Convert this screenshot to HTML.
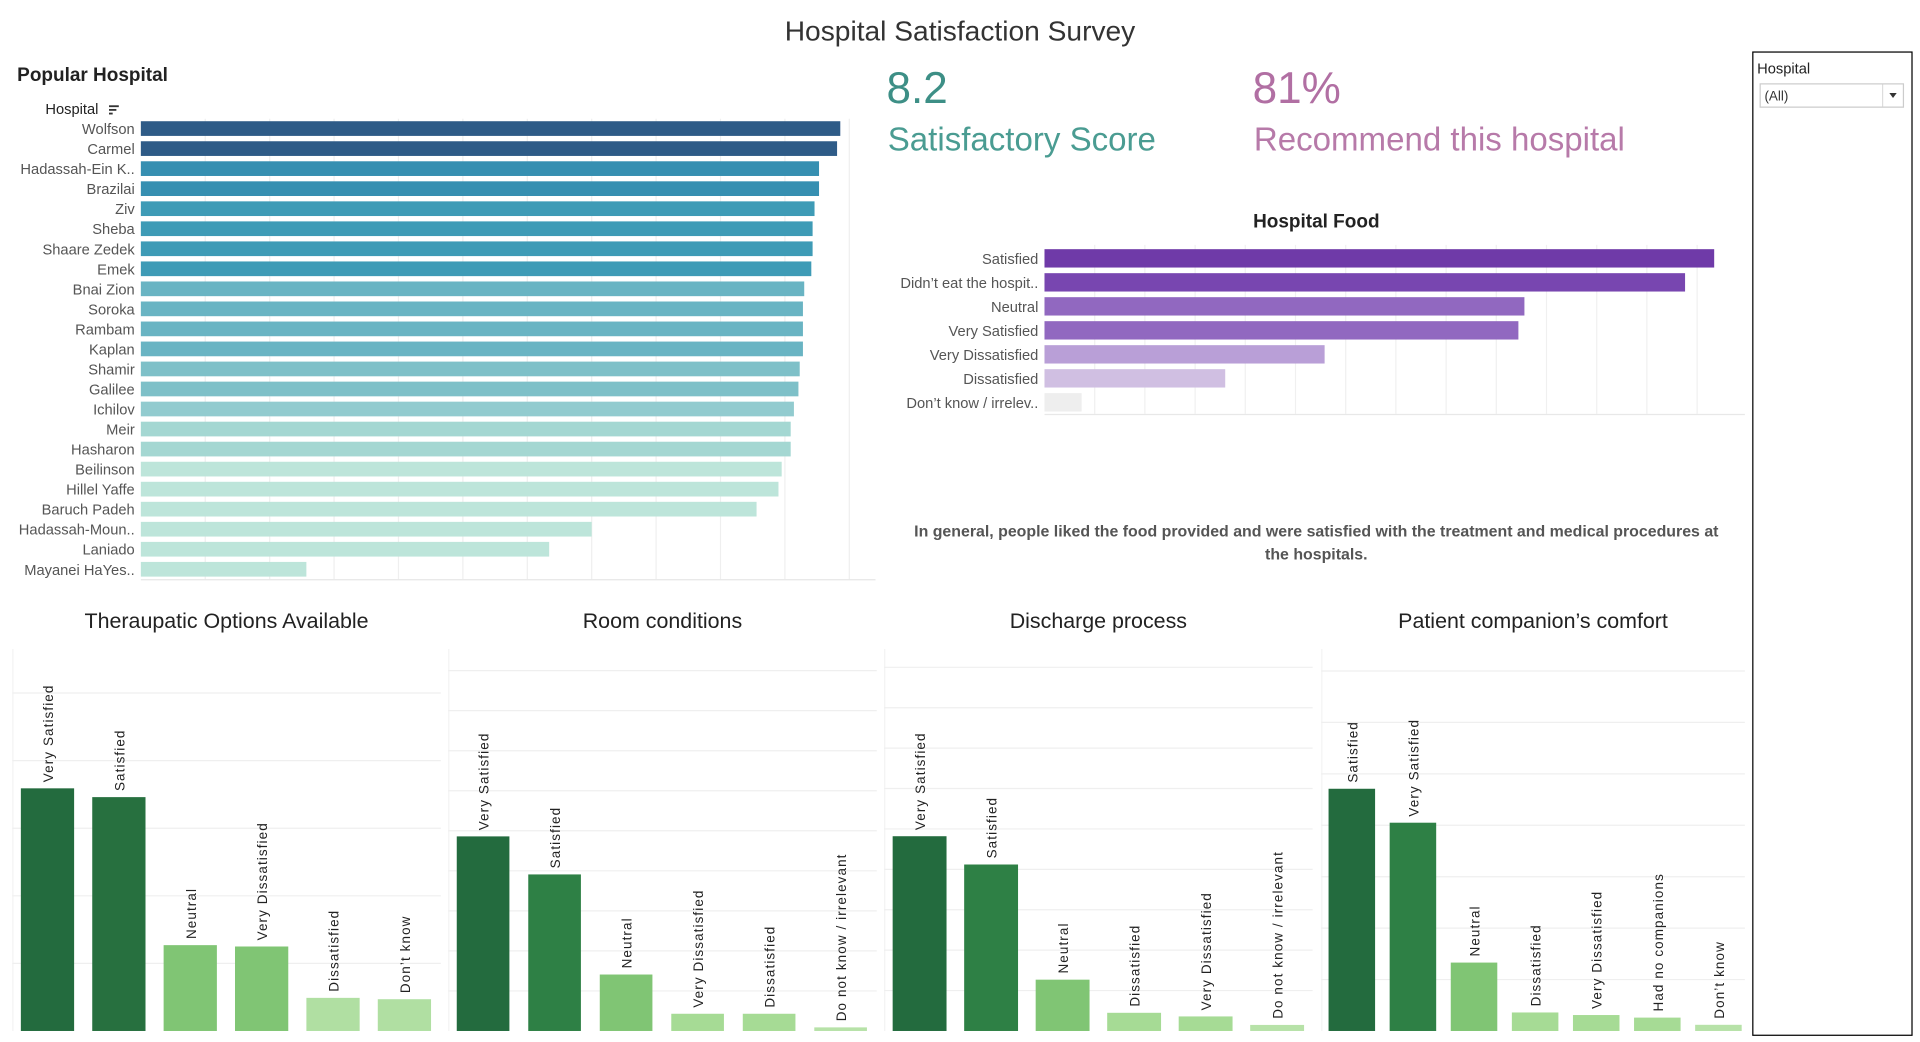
<!DOCTYPE html>
<html><head><meta charset="utf-8"><title>Hospital Satisfaction Survey</title>
<style>
html,body{margin:0;padding:0;background:#fff;width:1920px;height:1042px;overflow:hidden}
svg{display:block}
text{font-family:"Liberation Sans",sans-serif}
.rot{font-family:"Liberation Sans",sans-serif;font-size:11px;letter-spacing:0.9px;fill:#222}
</style></head>
<body>
<svg id="dash" width="1920" height="1042" viewBox="0 0 1568 851" xmlns="http://www.w3.org/2000/svg">
<text x="784" y="33" text-anchor="middle" font-size="23" fill="#333">Hospital Satisfaction Survey</text>
<text x="14" y="66" font-size="15.5" font-weight="bold" fill="#222">Popular Hospital</text>
<text x="37" y="93" font-size="12" fill="#222">Hospital</text>
<g><rect x="89" y="86" width="8" height="1.5" fill="#333"/><rect x="89" y="89" width="6" height="1.5" fill="#333"/><rect x="89" y="92" width="3" height="1.5" fill="#333"/></g>
<g id="popular"></g>
<text x="724" y="84" font-size="36" fill="#3d8f86">8.2</text>
<text x="725" y="123" font-size="27" fill="#4a9c92">Satisfactory Score</text>
<text x="1023" y="84" font-size="36" fill="#b16fa3">81%</text>
<text x="1024" y="123" font-size="27" fill="#b77aa9">Recommend this hospital</text>
<text x="1075" y="186" text-anchor="middle" font-size="15.5" font-weight="bold" fill="#222">Hospital Food</text>
<g id="food"></g>
<text x="1075" y="438" text-anchor="middle" font-size="13" font-weight="bold" fill="#555">In general, people liked the food provided  and were satisfied with the treatment and medical procedures at</text>
<text x="1075" y="457" text-anchor="middle" font-size="13" font-weight="bold" fill="#555">the hospitals.</text>
<g>
<rect x="1431.5" y="42.5" width="130" height="803" fill="#fff" stroke="#000" stroke-width="1"/>
<text x="1435" y="60" font-size="12" fill="#222">Hospital</text>
<g>
<rect x="1437.5" y="68.5" width="117" height="19" fill="#fff" stroke="#ccc"/>
<line x1="1537.5" y1="69" x2="1537.5" y2="87" stroke="#ddd"/>
<text x="1441" y="82" font-size="11" fill="#333">(All)</text>
<path d="M1543 76 L1549 76 L1546 80 Z" fill="#333"/>
</g></g>
<g id="bottom"></g>
</svg>
<script>
const NS="http://www.w3.org/2000/svg";
function el(tag,attrs,parent){const e=document.createElementNS(NS,tag);for(const k in attrs)e.setAttribute(k,attrs[k]);parent.appendChild(e);return e;}

// ---- Popular Hospital data ----
const hospitals=["Wolfson","Carmel","Hadassah-Ein K..","Brazilai","Ziv","Sheba","Shaare Zedek","Emek","Bnai Zion","Soroka","Rambam","Kaplan","Shamir","Galilee","Ichilov","Meir","Hasharon","Beilinson","Hillel Yaffe","Baruch Padeh","Hadassah-Moun..","Laniado","Mayanei HaYes.."];
const hospitalCounts=[1086,1081,1053,1053,1046,1043,1043,1041,1030,1028,1028,1028,1023,1021,1014,1009,1009,995,990,956,700,634,257];
const hospitalTicks=[0,100,200,300,400,500,600,700,800,900,1000,1100];

// ---- Hospital Food data ----
const foodCats=["Satisfied","Didn’t eat the hospit..","Neutral","Very Satisfied","Very Dissatisfied","Dissatisfied","Don’t know / irrelev.."];
const foodCounts=[667,638,478,472,279,180,37];
const foodTicks=[0,50,100,150,200,250,300,350,400,450,500,550,600,650,700];

// ---- bottom charts data ----
const therCats=["Very Satisfied","Satisfied","Neutral","Very Dissatisfied","Dissatisfied","Don’t know"];
const therVals=[359,346,127,125,49,47];
const roomCats=["Very Satisfied","Satisfied","Neutral","Very Dissatisfied","Dissatisfied","Do not know / irrelevant"];
const roomVals=[486,391,141,43,43,9];
const dischCats=["Very Satisfied","Satisfied","Neutral","Dissatisfied","Very Dissatisfied","Do not know / irrelevant"];
const dischVals=[482,412,127,45,36,15];
const compCats=["Satisfied","Very Satisfied","Neutral","Dissatisfied","Very Dissatisfied","Had no companions","Don’t know"];
const compVals=[471,405,133,36,31,26,12];
const bottomTicks=[0,100,200,300,400,500,600,700,800,900];

// Popular Hospital chart
(function(){
 const g=document.getElementById('popular');
 const x0=115,xEnd=715,pxPer=52.6/100,y0=105,step=16.36,bh=12;
 const xs=v=>x0+v*pxPer;
 hospitalTicks.forEach(t=>{if(t===0)return;const x=xs(t);if(x>xEnd)return;
  const l=el('line',{x1:x,x2:x,y1:97,y2:473,stroke:'#efefef'},g);
  
  });
 const ax=el('line',{x1:x0,x2:xEnd,y1:473.5,y2:473.5,stroke:'#e6e6e6'},g);
 
 
 const maxv=Math.max(...hospitalCounts);
 function color(v){const r=v/maxv;
  if(r>0.99)return'#2e5b87';if(r>0.965)return'#368fb1';if(r>0.958)return'#3e9bb6';if(r>0.955)return'#46a3b9';
  if(r>0.944)return'#69b4c3';if(r>0.938)return'#7ec0c8';if(r>0.93)return'#92cbcf';if(r>0.925)return'#a4d7d2';return'#bde5da';}
 hospitals.forEach((h,i)=>{const cy=y0+i*step;
  const r=el('rect',{x:x0,y:cy-bh/2,width:xs(hospitalCounts[i])-x0,height:bh,fill:color(hospitalCounts[i])},g);
  
  
  const t=el('text',{x:110,y:cy+4.5,'text-anchor':'end','font-size':12,fill:'#555'},g);t.textContent=h;
  
  });
})();

// Hospital Food chart
(function(){
 const g=document.getElementById('food');
 const x0=853,xEnd=1425,pxPer=41/50,y0=211,step=19.6,bh=15;
 const xs=v=>x0+v*pxPer;
 foodTicks.forEach(t=>{if(t===0)return;const x=xs(t);if(x>xEnd)return;
  const l=el('line',{x1:x,x2:x,y1:200,y2:338,stroke:'#f0f0f0'},g);
  
  });
 const ax=el('line',{x1:x0,x2:xEnd,y1:338.5,y2:338.5,stroke:'#e8e8e8'},g);
 
 
 const cols=['#6f3aa8','#7846b0','#9168c0','#9168c0','#b99fd7','#d0bfe2','#eeeeee'];
 foodCats.forEach((c,i)=>{const cy=y0+i*step;
  const r=el('rect',{x:x0,y:cy-bh/2,width:xs(foodCounts[i])-x0,height:bh,fill:cols[i]},g);
  
  
  const t=el('text',{x:848,y:cy+4.5,'text-anchor':'end','font-size':12,fill:'#555'},g);t.textContent=c;
  
  });
})();

// Bottom charts
(function(){
 const g=document.getElementById('bottom');
 const base=842;
 const panels=[
  {title:'Theraupatic Options Available',cats:therCats,vals:therVals,x0:10,x1:360,bx:17,bw:43.5,pitch:58.3,px:55.2/100,name:'therapeutic',
   cols:['#236b3e','#27703f','#80c574','#80c574','#b0dfa2','#b0dfa2']},
  {title:'Room conditions',cats:roomCats,vals:roomVals,x0:366,x1:716,bx:373,bw:43,pitch:58.4,px:32.7/100,name:'room',
   cols:['#236b3e','#2e8045','#80c574','#a6db95','#a6db95','#b7e2a8']},
  {title:'Discharge process',cats:dischCats,vals:dischVals,x0:722,x1:1072,bx:729,bw:44,pitch:58.4,px:33/100,name:'discharge',
   cols:['#236b3e','#2e8045','#80c574','#a6db95','#a6db95','#b7e2a8']},
  {title:'Patient companion’s comfort',cats:compCats,vals:compVals,x0:1079,x1:1425,bx:1085,bw:38,pitch:49.9,px:42/100,name:'companion',
   cols:['#236b3e','#2e8045','#80c574','#a6db95','#a6db95','#a6db95','#b7e2a8']}
 ];
 panels.forEach(p=>{
  const pg=el('g',{},g);
  
  
  const tt=el('text',{x:(p.x0+p.x1)/2,y:513,'text-anchor':'middle','font-size':17.5,fill:'#222'},pg);tt.textContent=p.title;
  
  
  const ys=v=>base-v*p.px;
  const sep=el('line',{x1:p.x0+0.5,x2:p.x0+0.5,y1:530,y2:base,stroke:'#f3f3f3'},pg);
  
  
  bottomTicks.forEach(t=>{if(t===0)return;const y=ys(t);if(y<530)return;
   const l=el('line',{x1:p.x0,x2:p.x1,y1:y,y2:y,stroke:'#efefef'},pg);
   
   });
  p.cats.forEach((c,i)=>{const x=p.bx+i*p.pitch,top=ys(p.vals[i]);
   const r=el('rect',{x:x,y:top,width:p.bw,height:base-top,fill:p.cols[i]},pg);
   
   
   const lx=x+p.bw/2+4.5,ly=top-5;
   const t=el('text',{x:lx,y:ly,class:'rot',transform:`rotate(-90 ${lx} ${ly})`},pg);t.textContent=c;
   
   });
 });
})();
</script>
</body></html>
